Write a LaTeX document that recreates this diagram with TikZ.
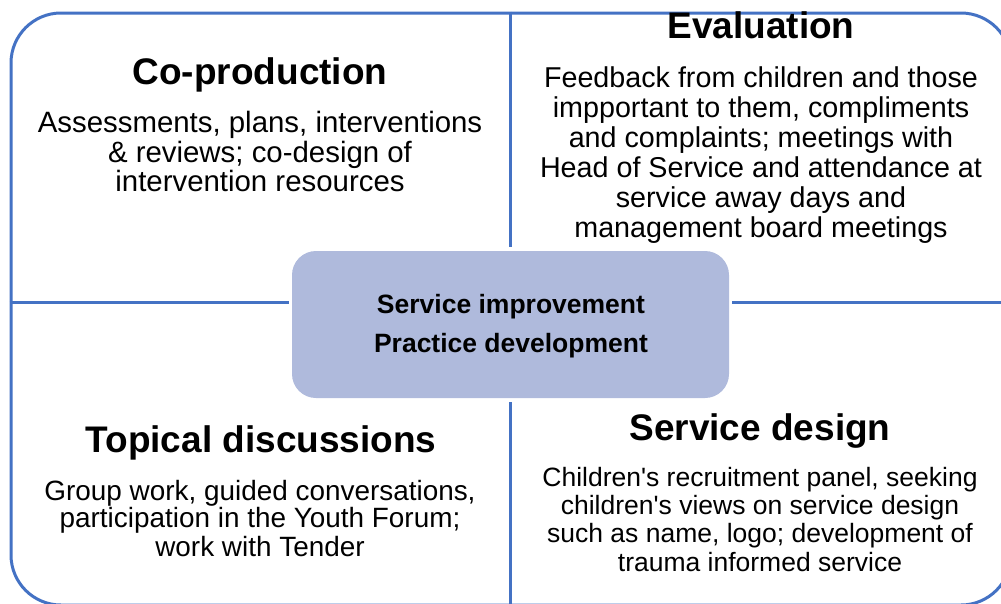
\documentclass[tikz,border=0pt]{standalone}
\usepackage{fontspec}
\setmainfont{Liberation Sans}
\definecolor{frameblue}{RGB}{68,114,196}
\definecolor{hubfill}{RGB}{175,186,220}
\tikzset{
  frame/.style={draw=frameblue, line width=3pt, rounded corners=50pt, minimum width=1000pt, minimum height=592pt, inner sep=0pt},
  hub/.style={fill=hubfill, rounded corners=24pt, minimum width=437pt, minimum height=147pt, inner sep=0pt},
  quadline/.style={draw=frameblue, line width=3pt},
  ttl/.style={anchor=base, inner sep=0pt, font=\bfseries\fontsize{37}{37}\selectfont},
  bodyA/.style={anchor=base, inner sep=0pt, font=\fontsize{29.4}{30}\selectfont},
  bodyB/.style={anchor=base, inner sep=0pt, font=\fontsize{28.7}{30}\selectfont},
  bodyC/.style={anchor=base, inner sep=0pt, font=\fontsize{27.9}{28}\selectfont},
  bodyD/.style={anchor=base, inner sep=0pt, font=\fontsize{26.5}{28}\selectfont},
  hubtext/.style={anchor=base, inner sep=0pt, font=\bfseries\fontsize{26.5}{26}\selectfont},
}
\begin{document}
\begin{tikzpicture}[x=1pt,y=-1pt]
\useasboundingbox (0,0) rectangle (1001,603);
\node[frame] (outer) at (511,309) {};
\node[hub] (hub) at (510.5,324.5) {};
\coordinate (hl) at (outer.west |- 0,302);
\coordinate (hr) at (outer.east |- 0,302);
\coordinate (hlin) at (hub.west |- 0,302);
\coordinate (hrin) at (hub.east |- 0,302);
\draw[quadline, shorten >=4pt] (outer.north -| hub.north) -- (hub.north);
\draw[quadline, shorten >=4pt] (outer.south -| hub.south) -- (hub.south);
\draw[quadline, shorten >=3pt] (hl) -- (hlin);
\draw[quadline, shorten >=3pt] (hr) -- (hrin);
% hub text
\node[hubtext] (h1) at (511,313) {Service improvement};
\node[hubtext] (h2) at (511,352) {Practice development};
% Co-production
\node[ttl] (t1) at (260,84) {Co-production};
\node[bodyA] (a1) at (260,132) {Assessments, plans, interventions};
\node[bodyA] (a2) at (260,162) {\& reviews; co-design of};
\node[bodyA] (a3) at (260,191) {intervention resources};
% Evaluation
\node[ttl] (t2) at (761,38) {Evaluation};
\node[bodyB] (b1) at (761,87) {Feedback from children and those};
\node[bodyB] (b2) at (761,117) {impportant to them, compliments};
\node[bodyB] (b3) at (761,147) {and complaints; meetings with};
\node[bodyB] (b4) at (761,177) {Head of Service and attendance at};
\node[bodyB] (b5) at (761,207) {service away days and};
\node[bodyB] (b6) at (761,237) {management board meetings};
% Topical discussions
\node[ttl] (t3) at (261,452) {Topical discussions};
\node[bodyC] (c1) at (260,500) {Group work, guided conversations,};
\node[bodyC] (c2) at (260,527) {participation in the Youth Forum;};
\node[bodyC] (c3) at (260,556) {work with Tender};
% Service design
\node[ttl] (t4) at (760,440) {Service design};
\node[bodyD] (d1) at (760,486) {Children\textquotesingle s recruitment panel, seeking};
\node[bodyD] (d2) at (760,514) {children\textquotesingle s views on service design};
\node[bodyD] (d3) at (760,542) {such as name, logo; development of};
\node[bodyD] (d4) at (760,571) {trauma informed service};
\end{tikzpicture}
\end{document}
